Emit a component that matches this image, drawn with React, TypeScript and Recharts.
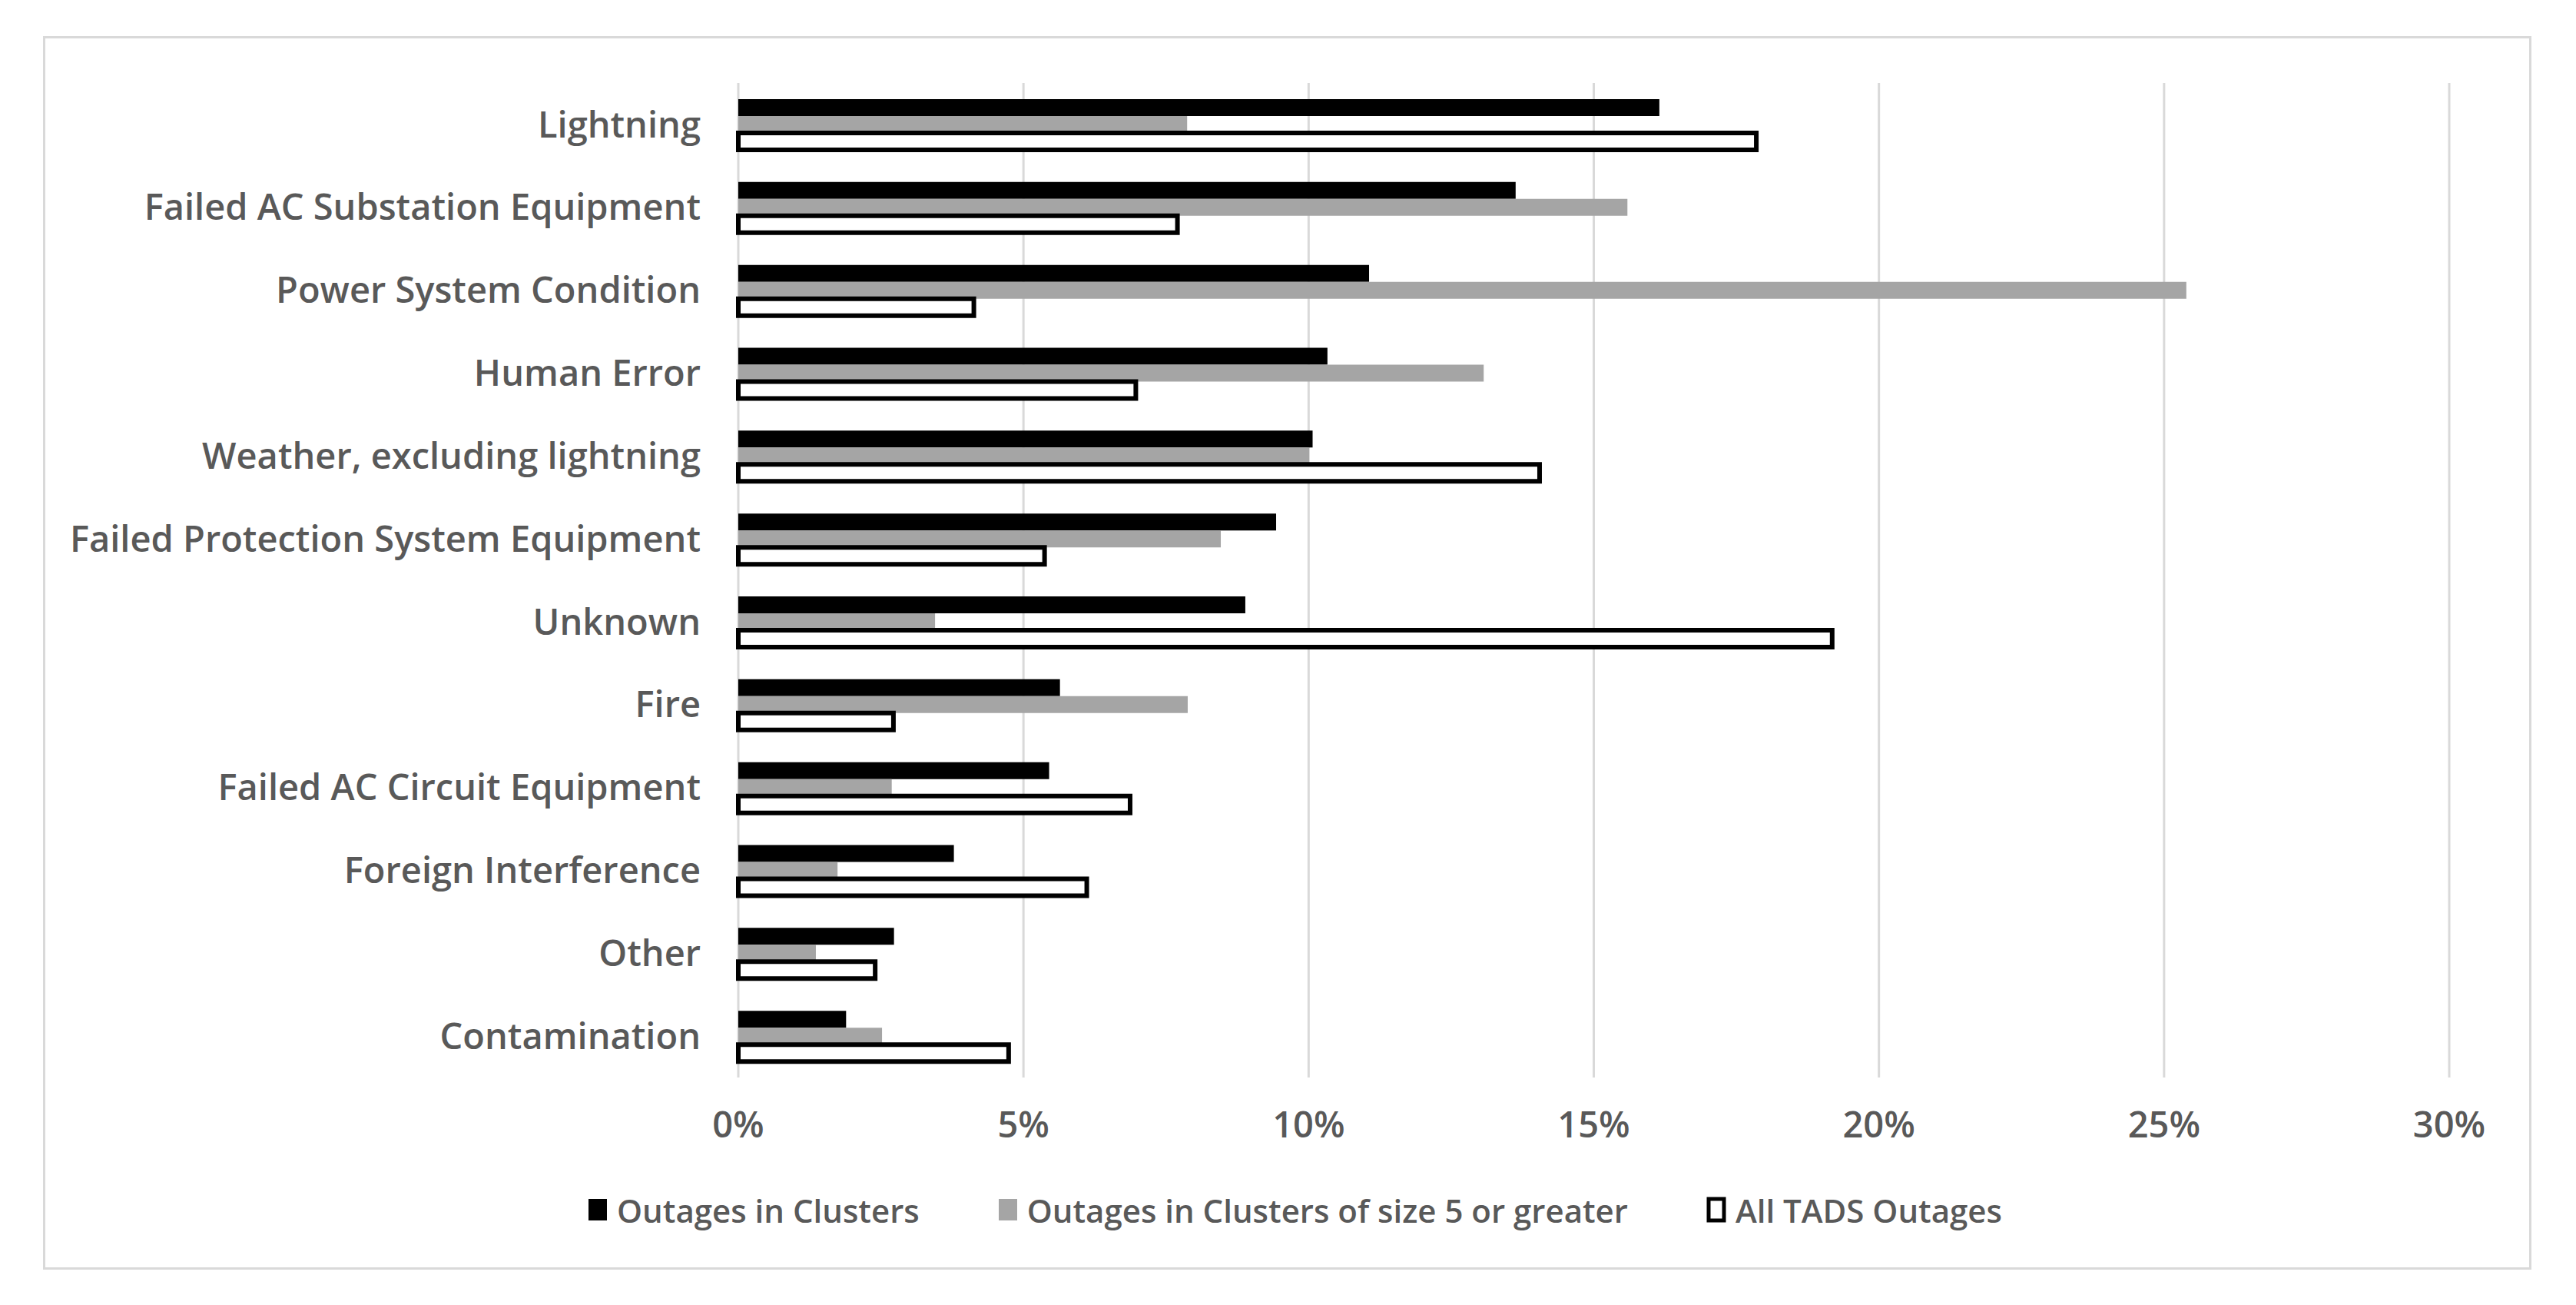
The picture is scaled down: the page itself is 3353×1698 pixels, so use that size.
import React from 'react';
import { BarChart, Bar, XAxis, YAxis, CartesianGrid, Legend } from 'recharts';

const causes = [
  'Lightning',
  'Failed AC Substation Equipment',
  'Power System Condition',
  'Human Error',
  'Weather, excluding lightning',
  'Failed Protection System Equipment',
  'Unknown',
  'Fire',
  'Failed AC Circuit Equipment',
  'Foreign Interference',
  'Other',
  'Contamination',
];

const outagesInClusters = [16.15, 13.63, 11.06, 10.33, 10.07, 9.43, 8.89, 5.64, 5.45, 3.78, 2.73, 1.89];
const outagesInClusters5 = [7.87, 15.59, 25.39, 13.07, 10.01, 8.46, 3.45, 7.88, 2.69, 1.74, 1.36, 2.52];
const allTadsOutages = [17.85, 7.7, 4.13, 6.97, 14.05, 5.37, 19.18, 2.72, 6.87, 6.11, 2.4, 4.74];

const xTicks = [0, 5, 10, 15, 20, 25, 30];

const seriesNames = ['Outages in Clusters', 'Outages in Clusters of size 5 or greater', 'All TADS Outages'];

const data = causes.map((cause, i) => ({
  cause,
  clusters: outagesInClusters[i],
  clusters5: outagesInClusters5[i],
  all: allTadsOutages[i],
}));

const W = 3353;
const H = 1698;
const FONT = '"Open Sans", Roboto, sans-serif';
const TEXT = '#595959';

const legendItems = [
  { name: seriesNames[0], fill: '#000000', stroke: 'none' },
  { name: seriesNames[1], fill: '#a5a5a5', stroke: 'none' },
  { name: seriesNames[2], fill: '#ffffff', stroke: '#000000' },
];

const renderLegend = () => (
  <div
    style={{
      display: 'flex',
      justifyContent: 'center',
      alignItems: 'center',
      height: 56,
      paddingLeft: 16,
      fontFamily: FONT,
      fontWeight: 600,
      fontSize: 42,
      color: TEXT,
    }}
  >
    {legendItems.map((it, i) => (
      <div key={it.name} style={{ display: 'flex', alignItems: 'center', marginLeft: i === 0 ? 0 : 100 }}>
        <svg width={30} height={38} style={{ marginRight: 10 }}>
          {it.stroke === 'none' ? (
            <rect x={3} y={5} width={24} height={28} fill={it.fill} />
          ) : (
            <rect x={5} y={5} width={20} height={28} fill={it.fill} stroke={it.stroke} strokeWidth={5} />
          )}
        </svg>
        <span style={{ whiteSpace: 'nowrap' }}>{it.name}</span>
      </div>
    ))}
  </div>
);

export default function App() {
  const tickStyle = { fill: TEXT, fontSize: 47, fontFamily: FONT, fontWeight: 600 };
  return (
    <div style={{ position: 'absolute', left: 0, top: 0, width: W, height: H, background: '#ffffff' }}>
      <div
        style={{
          position: 'absolute',
          left: 56,
          top: 47,
          width: 3239,
          height: 1605,
          border: '3px solid #d9d9d9',
          boxSizing: 'border-box',
        }}
      />
      <div style={{ position: 'absolute', left: 0, top: 0 }}>
        <BarChart
          width={W}
          height={H}
          data={data}
          layout="vertical"
          margin={{ top: 108, right: 165, bottom: 96, left: 0 }}
          barGap={0}
          barSize={22}
        >
          <CartesianGrid horizontal={false} stroke="#d9d9d9" strokeWidth={3} />
          <XAxis
            type="number"
            domain={[0, 30]}
            ticks={xTicks}
            interval={0}
            tickFormatter={(v: number) => `${v}%`}
            axisLine={false}
            tickLine={false}
            tickSize={0}
            tickMargin={45}
            height={144}
            tick={tickStyle}
          />
          <YAxis
            type="category"
            dataKey="cause"
            width={961}
            interval={0}
            axisLine={false}
            tickLine={false}
            tickSize={0}
            tickMargin={49}
            tick={tickStyle}
          />
          <Legend
            verticalAlign="bottom"
            content={renderLegend}
            wrapperStyle={{ top: 1546, left: 0, width: W, bottom: 'auto', height: 56 }}
          />
          <Bar dataKey="clusters" name={seriesNames[0]} fill="#000000" isAnimationActive={false} />
          <Bar dataKey="clusters5" name={seriesNames[1]} fill="#a5a5a5" isAnimationActive={false} />
          <Bar dataKey="all" name={seriesNames[2]} fill="#ffffff" stroke="#000000" strokeWidth={6} isAnimationActive={false} />
        </BarChart>
      </div>
    </div>
  );
}
